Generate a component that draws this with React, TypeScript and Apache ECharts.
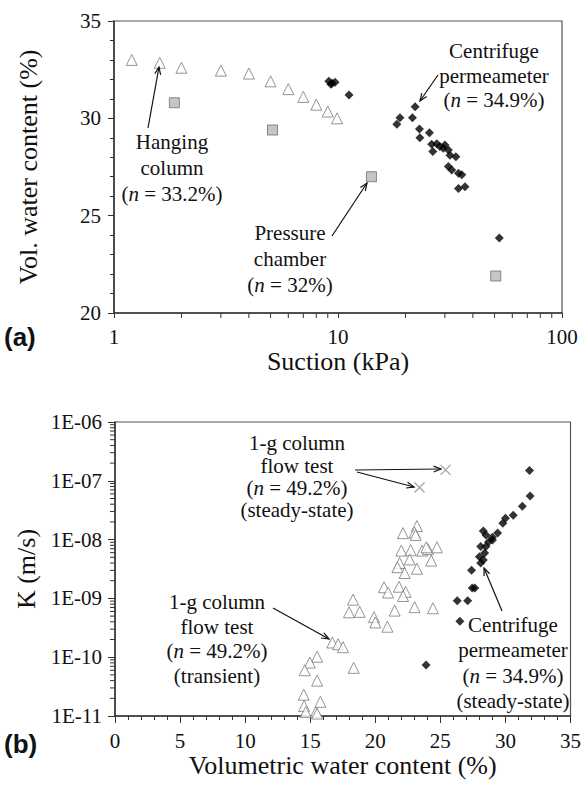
import React, { useEffect, useRef } from 'react';
import * as echarts from 'echarts';

const SERIF = 'Liberation Serif';
const SANS = 'Liberation Sans';

// ---- Panel (a): water retention ----
const hangX = [1.2, 1.6, 2.0, 3.0, 4.0, 5.0, 6.0, 7.0, 8.0, 9.0, 9.9];
const hangY = [33.0, 32.85, 32.6, 32.45, 32.3, 31.9, 31.5, 31.1, 30.7, 30.35, 30.0];

const pressX = [1.86, 5.1, 14.1, 50.6];
const pressY = [30.8, 29.4, 27.0, 21.9];

const centAX = [9.1, 9.4, 9.7, 9.3, 11.2, 22.1, 18.9, 18.3, 21.5, 23.1, 23.2, 25.6, 26.2, 26.5, 27.6, 28.5, 29.5, 30.0, 31.1, 31.6, 33.6, 31.1, 32.2, 34.5, 35.7, 34.5, 36.9, 52.5];
const centAY = [31.9, 31.8, 31.85, 31.75, 31.2, 30.6, 30.03, 29.7, 30.03, 29.45, 29.0, 29.26, 28.67, 28.29, 28.7, 28.55, 28.46, 28.63, 28.37, 28.1, 28.03, 27.52, 27.35, 27.18, 27.1, 26.4, 26.49, 23.85];

const suctionMinorTicks = [2, 3, 4, 5, 6, 7, 8, 9, 20, 30, 40, 50, 60, 70, 80, 90];

// ---- Panel (b): hydraulic conductivity ----
const transX = [23.2, 22.13, 23.02, 23.1, 22.0, 22.72, 23.6, 24.05, 24.74, 23.92, 22.64, 24.3, 21.87, 21.7, 22.26, 23.2, 20.67, 20.98, 21.82, 22.33, 22.13, 18.29, 17.98, 18.8, 19.9, 20.0, 21.49, 20.93, 23.02, 24.43, 16.7, 17.14, 17.52, 15.53, 14.97, 14.58, 15.53, 18.34, 14.5, 14.53, 15.78, 14.66, 15.43, 15.53];
const transK = [1.7e-8, 1.29e-8, 1.32e-8, 1.2e-8, 6.5e-9, 6.6e-9, 6.5e-9, 6.9e-9, 7.4e-9, 7.4e-9, 4.6e-9, 4.4e-9, 4.0e-9, 3.4e-9, 2.7e-9, 3.2e-9, 1.55e-9, 1.26e-9, 1.58e-9, 1.29e-9, 1.1e-9, 9.5e-10, 5.8e-10, 5.9e-10, 4.8e-10, 3.9e-10, 6.2e-10, 3.3e-10, 7.1e-10, 6.8e-10, 1.78e-10, 1.66e-10, 1.48e-10, 1.02e-10, 8.1e-11, 6.0e-11, 4.0e-11, 6.6e-11, 2.3e-11, 1.48e-11, 1.74e-11, 1.17e-11, 1.17e-11, 1.1e-11];

const steadyX = [25.4, 23.4];
const steadyK = [1.53e-7, 7.7e-8];

const centBX = [31.85, 31.9, 31.3, 30.6, 30.0, 29.8, 29.4, 29.0, 28.3, 28.5, 29.0, 28.7, 28.5, 28.1, 28.4, 28.0, 28.3, 28.1, 27.4, 27.45, 27.65, 26.3, 27.1, 26.5, 23.9];
const centBK = [1.5e-7, 5.5e-8, 3.7e-8, 2.6e-8, 2.3e-8, 1.9e-8, 1.3e-8, 1.1e-8, 1.4e-8, 1.2e-8, 9.8e-9, 9.1e-9, 7.6e-9, 7.6e-9, 5.9e-9, 5.1e-9, 4.5e-9, 4.0e-9, 3.0e-9, 1.5e-9, 1.5e-9, 9.1e-10, 9.1e-10, 4.1e-10, 7.4e-11];

const kMantissas = [2, 3, 4, 5, 6, 7, 8, 9];
const kDecades = [1e-11, 1e-10, 1e-9, 1e-8, 1e-7];

const zip = (a: number[], b: number[]) => a.map((v, i) => [v, b[i]]);

function arrow(x1: number, y1: number, x2: number, y2: number) {
  const ang = Math.atan2(y2 - y1, x2 - x1);
  const L = 8;
  const A = 0.38;
  const p1 = [x2 - L * Math.cos(ang - A), y2 - L * Math.sin(ang - A)];
  const p2 = [x2 - L * Math.cos(ang + A), y2 - L * Math.sin(ang + A)];
  return [
    { type: 'line', silent: true, z: 100, shape: { x1, y1, x2, y2 }, style: { stroke: '#111', lineWidth: 1.2 } },
    { type: 'polyline', silent: true, z: 100, shape: { points: [p1, [x2, y2], p2] }, style: { stroke: '#111', fill: null, lineWidth: 1.2 } },
  ];
}

function note(cx: number, top: number, lines: string[], lh: number) {
  return {
    type: 'text',
    silent: true,
    z: 100,
    x: cx,
    y: top,
    style: {
      text: lines.join('\n'),
      align: 'center',
      verticalAlign: 'top',
      fontFamily: SERIF,
      fontSize: 21,
      lineHeight: lh,
      fill: '#111',
      rich: {
        i: { fontStyle: 'italic', fontFamily: SERIF, fontSize: 21, lineHeight: lh, fill: '#111' },
      },
    },
  };
}

const minorTickSeries = (xi: number, data: number[][], vertical: boolean) => ({
  type: 'custom',
  xAxisIndex: xi,
  yAxisIndex: xi,
  silent: true,
  clip: false,
  z: 5,
  data,
  renderItem: (_p: any, api: any) => {
    const pt = api.coord([api.value(0), api.value(1)]);
    return vertical
      ? { type: 'line', shape: { x1: pt[0], y1: pt[1], x2: pt[0], y2: pt[1] + 5 }, style: { stroke: '#333', lineWidth: 1 } }
      : { type: 'line', shape: { x1: pt[0] - 5, y1: pt[1], x2: pt[0], y2: pt[1] }, style: { stroke: '#333', lineWidth: 1 } };
  },
});

const axisLine = { show: true, lineStyle: { color: '#333', width: 1.5 } };
const tickLabel = { fontFamily: SERIF, fontSize: 21, color: '#111' };
const nameStyle = { fontFamily: SERIF, fontSize: 26, color: '#111' };

export default function App() {
  const ref = useRef<HTMLDivElement>(null);
  useEffect(() => {
    document.body.style.margin = '0';
    const chart = echarts.init(ref.current!, null, { renderer: 'svg' });
    const kMinor: number[][] = [];
    kDecades.forEach((d) => kMantissas.forEach((m) => kMinor.push([0, m * d])));

    const option: any = {
      animation: false,
      backgroundColor: '#fff',
      textStyle: { fontFamily: SERIF },
      grid: [
        { left: 114, top: 21, width: 448, height: 292, show: true, borderColor: '#555', borderWidth: 1.2 },
        { left: 115, top: 422, width: 456, height: 294, show: true, borderColor: '#555', borderWidth: 1.2 },
      ],
      xAxis: [
        {
          type: 'log', logBase: 10, gridIndex: 0, min: 1, max: 100,
          axisLine, axisTick: { show: true, length: 5, lineStyle: { color: '#333' } },
          axisLabel: { ...tickLabel, margin: 13 },
          splitLine: { show: false },
          name: 'Suction (kPa)', nameLocation: 'middle', nameGap: 35, nameTextStyle: nameStyle,
        },
        {
          type: 'value', gridIndex: 1, min: 0, max: 35, interval: 5,
          axisLine, axisTick: { show: true, length: 7, lineStyle: { color: '#333' } },
          minorTick: { show: true, splitNumber: 5, length: 4, lineStyle: { color: '#333' } },
          axisLabel: { ...tickLabel, margin: 14 },
          splitLine: { show: false },
          name: 'Volumetric water content (%)', nameLocation: 'middle', nameGap: 36, nameTextStyle: nameStyle,
        },
      ],
      yAxis: [
        {
          type: 'value', gridIndex: 0, min: 20, max: 35, interval: 5,
          axisLine, axisTick: { show: true, length: 6, lineStyle: { color: '#333' } },
          minorTick: { show: true, splitNumber: 5, length: 4, lineStyle: { color: '#333' } },
          axisLabel: { ...tickLabel, margin: 13 },
          splitLine: { show: false },
          name: 'Vol. water content (%)', nameLocation: 'middle', nameGap: 73, nameTextStyle: nameStyle,
        },
        {
          type: 'log', logBase: 10, gridIndex: 1, min: 1e-11, max: 1e-6,
          axisLine, axisTick: { show: true, length: 7, lineStyle: { color: '#333' } },
          axisLabel: {
            ...tickLabel, margin: 13,
            formatter: (v: number) => {
              const e = Math.round(Math.log10(v));
              return '1E-' + String(-e).padStart(2, '0');
            },
          },
          splitLine: { show: false },
          name: 'K (m/s)', nameLocation: 'middle', nameGap: 75, nameTextStyle: nameStyle,
        },
      ],
      series: [
        minorTickSeries(0, suctionMinorTicks.map((v) => [v, 20]), true),
        minorTickSeries(1, kMinor, false),
        {
          name: 'Hanging column', type: 'scatter', xAxisIndex: 0, yAxisIndex: 0,
          symbol: 'triangle', symbolSize: 11, data: zip(hangX, hangY),
          itemStyle: { color: '#fff', borderColor: '#7a7a7a', borderWidth: 1 },
        },
        {
          name: 'Pressure chamber', type: 'scatter', xAxisIndex: 0, yAxisIndex: 0,
          symbol: 'rect', symbolSize: 10, data: zip(pressX, pressY),
          itemStyle: { color: '#b8b8b8', borderColor: '#6e6e6e', borderWidth: 1 },
        },
        {
          name: 'Centrifuge (a)', type: 'scatter', xAxisIndex: 0, yAxisIndex: 0,
          symbol: 'diamond', symbolSize: 9, data: zip(centAX, centAY),
          itemStyle: { color: '#000' },
        },
        {
          name: '1-g transient', type: 'scatter', xAxisIndex: 1, yAxisIndex: 1,
          symbol: 'triangle', symbolSize: 11, data: zip(transX, transK),
          itemStyle: { color: '#fff', borderColor: '#7a7a7a', borderWidth: 1 },
        },
        {
          name: '1-g steady', type: 'scatter', xAxisIndex: 1, yAxisIndex: 1,
          symbol: 'path://M0,0L10,10M10,0L0,10', symbolSize: 10, data: zip(steadyX, steadyK),
          itemStyle: { color: 'none', borderColor: '#888', borderWidth: 1.2 },
        },
        {
          name: 'Centrifuge (b)', type: 'scatter', xAxisIndex: 1, yAxisIndex: 1,
          symbol: 'diamond', symbolSize: 9, data: zip(centBX, centBK),
          itemStyle: { color: '#000' },
        },
      ],
      graphic: [
        { type: 'text', silent: true, x: 4, y: 337, style: { text: '(a)', fontFamily: SANS, fontWeight: 'bold', fontSize: 26, fill: '#111', verticalAlign: 'middle' } },
        { type: 'text', silent: true, x: 4, y: 744, style: { text: '(b)', fontFamily: SANS, fontWeight: 'bold', fontSize: 26, fill: '#111', verticalAlign: 'middle' } },
        note(172, 129, ['Hanging', 'column', '({i|n} = 33.2%)'], 25.8),
        note(290, 220, ['Pressure', 'chamber', '({i|n} = 32%)'], 25.8),
        note(494, 39, ['Centrifuge', 'permeameter', '({i|n} = 34.9%)'], 24.4),
        note(297, 432, ['1-g column', 'flow test', '({i|n} = 49.2%)', '(steady-state)'], 22.4),
        note(217, 590, ['1-g column', 'flow test', '({i|n} = 49.2%)', '(transient)'], 24.5),
        note(513, 612, ['Centrifuge', 'permeameter', '({i|n} = 34.9%)', '(steady-state)'], 25.5),
        ...arrow(148, 128, 159, 67),
        ...arrow(332, 236, 367, 183),
        ...arrow(438, 75, 420, 101),
        ...arrow(355, 470, 441, 469),
        ...arrow(357, 472, 414, 487),
        ...arrow(273, 608, 329, 639),
        ...arrow(502, 611, 484, 568),
      ],
    };
    chart.setOption(option);
    return () => chart.dispose();
  }, []);
  return <div ref={ref} style={{ width: 584, height: 797 }} />;
}
